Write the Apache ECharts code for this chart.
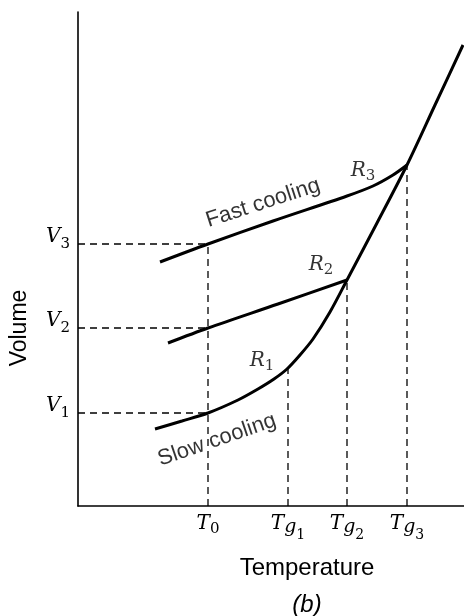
<!DOCTYPE html>
<html>
<head>
    <meta charset="utf-8">
    <title>Volume vs Temperature (b)</title>
    <script src="https://cdn.jsdelivr.net/npm/echarts@6/dist/echarts.min.js"></script>
    <style>
        body { margin: 0; padding: 0; background: #fff; }
        #chart { width: 464px; height: 616px; }
    </style>
</head>
<body>
    <div id="chart"></div>
    <script>
        // arbitrary units
        var tempTicks = [130, 210, 269, 329];          // T0, Tg1, Tg2, Tg3
        var tempTickNames = ['T0', 'Tg1', 'Tg2', 'Tg3'];
        var volTicks = [93, 178, 262];                 // V1, V2, V3
        var volTickNames = ['V1', 'V2', 'V3'];

        // equilibrium liquid line + slow cooling branch (top right to bottom left)
        var slowCurve = [[385, 461], [357, 401], [329, 341], [299, 283], [269, 226], [252, 194],
            [235, 167], [222, 151], [209, 137], [196, 127], [180, 117], [160, 106],
            [130, 93], [104, 85], [77, 77]];
        var midCurve = [[90, 163], [130, 178], [200, 202], [269, 226]];
        var fastCurve = [[82, 244], [130, 262], [195, 285], [269, 310], [295, 320], [315, 331], [329, 341]];

        // break points R1..R3
        var breakVol = [137, 226, 341];

        var notes = [
            { name: 'R1', value: [184, 145], rotate: 0 },
            { name: 'R2', value: [243, 241], rotate: 0 },
            { name: 'R3', value: [285, 335], rotate: 0 },
            { name: 'Fast cooling', value: [185, 303], rotate: 18 },
            { name: 'Slow cooling', value: [139, 66], rotate: 19 }
        ];

        var serif = 'DejaVu Serif';
        var sans = 'Liberation Sans';

        function richName(s, pre) {
            // "T0" -> T sub 0, "Tg1" -> T sub g subsub 1
            if (s.indexOf('cooling') >= 0) return '{t|' + s + '}';
            if (s.length === 3) return '{a|' + s[0] + '}{g|' + s[1] + '}{d|' + s[2] + '}';
            return '{' + pre + 'a|' + s[0] + '}{' + pre + 's|' + s[1] + '}';
        }
        var rich = {
            a: { fontFamily: serif, fontStyle: 'italic', fontSize: 20, color: '#000', lineHeight: 36 },
            s: { fontFamily: serif, fontSize: 15, color: '#000', padding: [10, 0, 0, 0] },
            g: { fontFamily: serif, fontStyle: 'italic', fontSize: 19, color: '#000', padding: [6, 0, 0, 0] },
            d: { fontFamily: serif, fontSize: 14, color: '#000', padding: [22, 0, 0, 0] },
            va: { fontFamily: serif, fontStyle: 'italic', fontSize: 20, color: '#000', padding: [0, 0, 14, 0] },
            vs: { fontFamily: serif, fontSize: 15, color: '#000' },
            ra: { fontFamily: serif, fontStyle: 'italic', fontSize: 20, color: '#000' },
            rs: { fontFamily: serif, fontSize: 15, color: '#000', padding: [11, 0, 0, 0] },
            t: { fontFamily: sans, fontSize: 22, color: '#000' }
        };

        var guides = [];
        volTicks.forEach(function (v) { guides.push([[0, v], [tempTicks[0], v]]); });
        guides.push([[tempTicks[0], 0], [tempTicks[0], volTicks[2]]]);
        for (var i = 0; i < 3; i++) guides.push([[tempTicks[i + 1], 0], [tempTicks[i + 1], breakVol[i]]]);

        var series = [];
        guides.forEach(function (seg) {
            series.push({
                type: 'line', data: seg, symbol: 'none', silent: true,
                lineStyle: { color: '#000', width: 1.3, type: [7, 5] }
            });
        });
        [slowCurve, midCurve, fastCurve].forEach(function (c) {
            series.push({
                type: 'line', data: c, symbol: 'none', smooth: 0.3,
                lineStyle: { color: '#000', width: 3 }
            });
        });
        series.push({
            type: 'scatter', symbolSize: 0,
            data: notes.map(function (n) {
                return { name: n.name, value: n.value, label: { rotate: n.rotate } };
            }),
            label: {
                show: true, position: 'inside',
                formatter: function (p) { return richName(p.name, 'r'); },
                rich: rich
            }
        });

        var chart = echarts.init(document.getElementById('chart'));
        chart.setOption({
            animation: false,
            grid: { left: 78, right: 0, top: 12, bottom: 110 },
            xAxis: {
                type: 'value', min: 0, max: 386,
                splitLine: { show: false },
                axisTick: { show: false },
                axisLine: { lineStyle: { color: '#000', width: 1.6 } },
                axisLabel: {
                    customValues: tempTicks, margin: 0,
                    formatter: function (v) { return richName(tempTickNames[tempTicks.indexOf(v)], ''); },
                    rich: rich
                }
            },
            yAxis: {
                type: 'value', min: 0, max: 494,
                splitLine: { show: false },
                axisTick: { show: false },
                axisLine: { lineStyle: { color: '#000', width: 1.6 } },
                axisLabel: {
                    customValues: volTicks, margin: 8,
                    formatter: function (v) { return richName(volTickNames[volTicks.indexOf(v)], 'v'); },
                    rich: rich
                }
            },
            graphic: [
                { type: 'text', x: 20, y: 328, rotation: Math.PI / 2,
                  style: { text: 'Volume', font: '23px ' + sans, fill: '#000', align: 'center', verticalAlign: 'middle' } },
                { type: 'text', x: 307, y: 568,
                  style: { text: 'Temperature', font: '24px ' + sans, fill: '#000', align: 'center', verticalAlign: 'middle' } },
                { type: 'text', x: 307, y: 605,
                  style: { text: '(b)', font: 'italic 24px ' + sans, fill: '#000', align: 'center', verticalAlign: 'middle' } }
            ],
            series: series
        });
    </script>
</body>
</html>
